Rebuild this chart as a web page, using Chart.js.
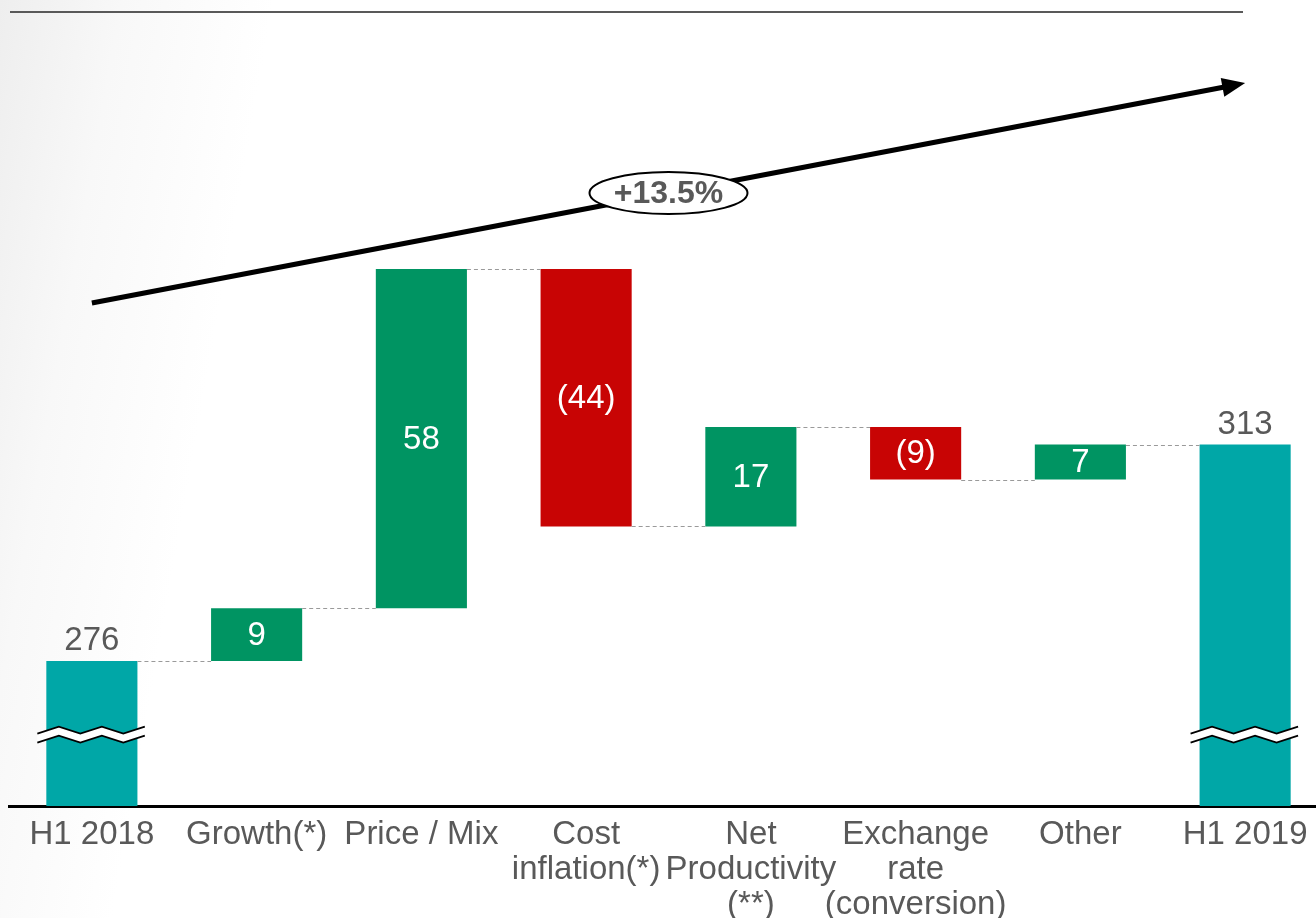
<!DOCTYPE html>
<html>
<head>
<meta charset="utf-8">
<title>EBITDA bridge H1 2018 - H1 2019</title>
<script src="https://cdn.jsdelivr.net/npm/chart.js@4.4.1/dist/chart.umd.min.js"></script>
<style>
  html, body { margin: 0; padding: 0; }
  body {
    width: 1316px; height: 918px; overflow: hidden; position: relative;
    background: linear-gradient(100deg, #eeeeee 0px, #f8f8f8 120px, #ffffff 270px);
  }
  #topRule { position: absolute; left: 10px; top: 11px; width: 1233px; height: 2px; background: #595959; }
  #bridge { position: absolute; left: 0; top: 0; }
</style>
</head>
<body>
<div id="topRule"></div>
<canvas id="bridge" width="1330" height="918"></canvas>
<script>
const categories = ['H1 2018', 'Growth(*)', 'Price / Mix', ['Cost', 'inflation(*)'],
  ['Net', 'Productivity', '(**)'], ['Exchange', 'rate', '(conversion)'], 'Other', 'H1 2019']
// running level after each column
const levels = [276, 285, 343, 299, 316, 307, 313, 313]
const barLabels = ['276', '9', '58', '(44)', '17', '(9)', '7', '313']
const isTotal = [true, false, false, false, false, false, false, true]

const axisMin = 251.2
const axisMax = 389
const breakAt = 263.4          // where the axis-break squiggle sits on the total bars
const trendFrom = 337.2, trendTo = 374.8
const trendText = '+13.5%'

const TEAL = '#00a7a7', GREEN = '#009462', RED = '#c80404', GREY = '#595959'
const FONT = '"Liberation Sans", Arial, sans-serif'

const ranges = levels.map((lvl, i) => {
  if (isTotal[i]) return [axisMin, lvl]
  return [levels[i - 1], lvl]
})
const colors = levels.map((lvl, i) => {
  if (isTotal[i]) return TEAL
  return lvl >= levels[i - 1] ? GREEN : RED
})

const bridgeDecor = {
  id: 'bridgeDecor',
  afterDatasetsDraw(chart) {
    const { ctx } = chart
    const y = chart.scales.y
    const bars = chart.getDatasetMeta(0).data

    // dashed connectors between neighbouring columns
    ctx.save()
    ctx.strokeStyle = '#9a9a9a'
    ctx.lineWidth = 1
    ctx.setLineDash([4, 3])
    for (let i = 0; i < bars.length - 1; i++) {
      const py = Math.round(y.getPixelForValue(levels[i])) + 0.5
      ctx.beginPath()
      ctx.moveTo(bars[i].x + bars[i].width / 2, py)
      ctx.lineTo(bars[i + 1].x - bars[i + 1].width / 2, py)
      ctx.stroke()
    }
    ctx.restore()

    // axis break squiggles on the total columns
    ctx.save()
    bars.forEach((bar, i) => {
      if (!isTotal[i]) return
      const cy = y.getPixelForValue(breakAt)
      const x0 = bar.x - bar.width / 2 - 9
      const x1 = bar.x + bar.width / 2 + 9
      const step = 21.5, amp = 3.5, gap = 9
      const pts = []
      let k = 0
      for (let x = x0; x <= x1 + 0.1; x += step, k++) pts.push([x, k % 2 ? -amp : amp])
      const wave = (off) => {
        ctx.beginPath()
        pts.forEach(([px, dy], j) => j ? ctx.lineTo(px, cy + off + dy) : ctx.moveTo(px, cy + off + dy))
      }
      ctx.beginPath()
      pts.forEach(([px, dy], j) => j ? ctx.lineTo(px, cy - gap / 2 + dy) : ctx.moveTo(px, cy - gap / 2 + dy))
      for (let j = pts.length - 1; j >= 0; j--) ctx.lineTo(pts[j][0], cy + gap / 2 + pts[j][1])
      ctx.closePath()
      ctx.fillStyle = '#ffffff'
      ctx.fill()
      ctx.strokeStyle = '#000000'
      ctx.lineWidth = 1.8
      wave(-gap / 2)
      ctx.stroke()
      wave(gap / 2)
      ctx.stroke()
    })
    ctx.restore()

    // value labels
    ctx.save()
    ctx.font = '33px ' + FONT
    ctx.textAlign = 'center'
    bars.forEach((bar, i) => {
      if (isTotal[i]) {
        ctx.fillStyle = GREY
        ctx.textBaseline = 'alphabetic'
        ctx.fillText(barLabels[i], bar.x, Math.min(bar.y, bar.base) - 11)
      } else {
        ctx.fillStyle = '#ffffff'
        ctx.textBaseline = 'middle'
        ctx.fillText(barLabels[i], bar.x, (bar.y + bar.base) / 2 + 1)
      }
    })
    ctx.restore()

    // growth arrow with ellipse badge
    ctx.save()
    const ax0 = bars[0].x, ax1 = bars[bars.length - 1].x
    const ay0 = y.getPixelForValue(trendFrom), ay1 = y.getPixelForValue(trendTo)
    const ang = Math.atan2(ay1 - ay0, ax1 - ax0)
    const head = 23, half = 9.5
    const bx = ax1 - head * Math.cos(ang), by = ay1 - head * Math.sin(ang)
    ctx.strokeStyle = '#000000'
    ctx.lineWidth = 5
    ctx.beginPath()
    ctx.moveTo(ax0, ay0)
    ctx.lineTo(bx + 2 * Math.cos(ang), by + 2 * Math.sin(ang))
    ctx.stroke()
    ctx.fillStyle = '#000000'
    ctx.beginPath()
    ctx.moveTo(ax1, ay1)
    ctx.lineTo(bx + half * Math.sin(ang), by - half * Math.cos(ang))
    ctx.lineTo(bx - half * Math.sin(ang), by + half * Math.cos(ang))
    ctx.closePath()
    ctx.fill()

    const mx = (ax0 + ax1) / 2, my = (ay0 + ay1) / 2
    ctx.beginPath()
    ctx.ellipse(mx, my, 79, 21, 0, 0, Math.PI * 2)
    ctx.fillStyle = '#ffffff'
    ctx.fill()
    ctx.lineWidth = 2
    ctx.stroke()
    ctx.fillStyle = GREY
    ctx.font = 'bold 32px ' + FONT
    ctx.textAlign = 'center'
    ctx.textBaseline = 'middle'
    ctx.fillText(trendText, mx, my + 1)
    ctx.restore()
  }
}

new Chart(document.getElementById('bridge'), {
  type: 'bar',
  data: {
    labels: categories,
    datasets: [{
      data: ranges,
      backgroundColor: colors,
      borderWidth: 0,
      borderSkipped: false,
      barPercentage: 0.553,
      categoryPercentage: 1
    }]
  },
  options: {
    responsive: false,
    animation: false,
    layout: { padding: { left: 9.5, right: 2.5, top: 0, bottom: 0 } },
    plugins: { legend: { display: false }, tooltip: { enabled: false } },
    scales: {
      x: {
        grid: { display: false, drawTicks: false },
        border: { color: '#000000', width: 3 },
        ticks: {
          color: GREY,
          font: { family: FONT, size: 33, lineHeight: 1.06 },
          padding: 11,
          maxRotation: 0,
          autoSkip: false
        },
        afterFit(scale) { scale.height = 112 }
      },
      y: {
        display: false,
        min: axisMin,
        max: axisMax
      }
    }
  },
  plugins: [bridgeDecor]
})
</script>
</body>
</html>
